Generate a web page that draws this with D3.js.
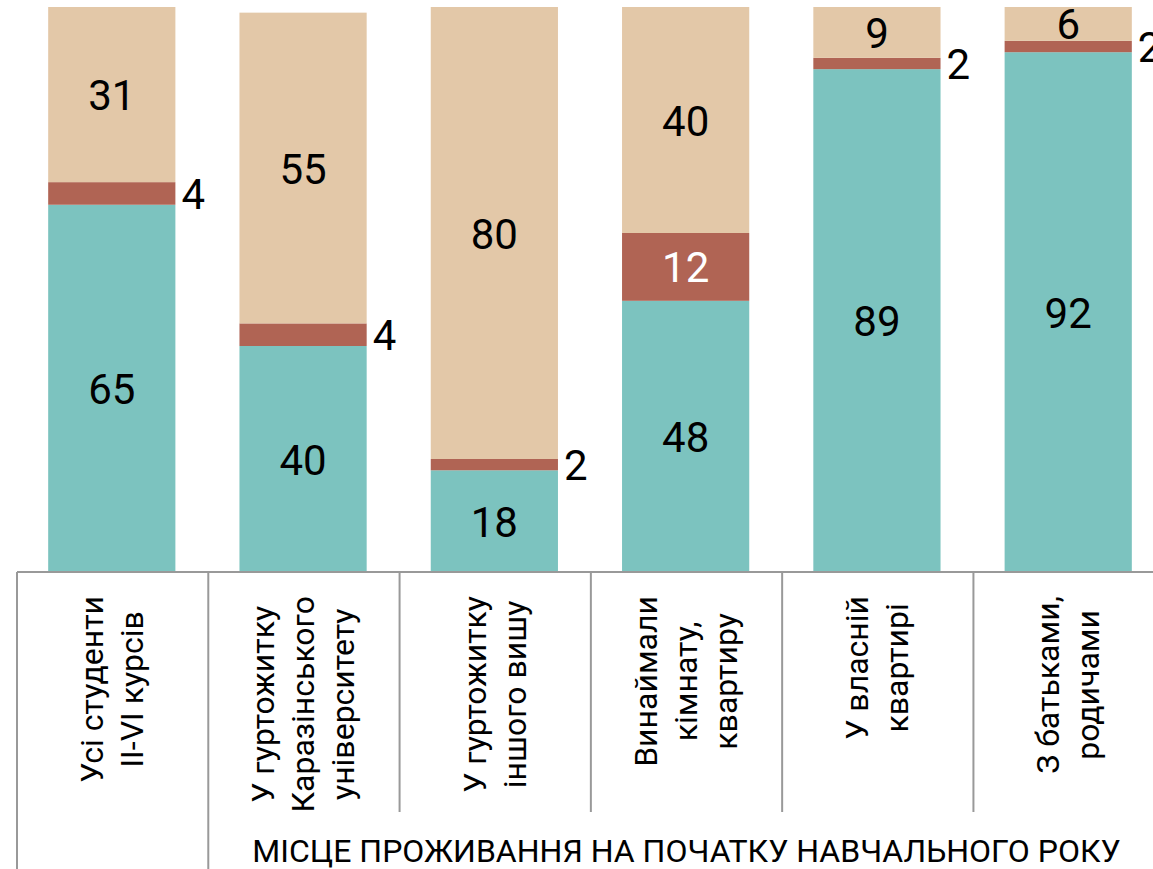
<!DOCTYPE html>
<html>
<head>
<meta charset="utf-8">
<script src="https://cdn.jsdelivr.net/npm/d3@7"></script>
<style>
  body { margin: 0; background: #fff; }
  svg { display: block; font-family: Roboto, "Noto Sans", sans-serif; }
</style>
</head>
<body>
<script>
// categories (each entry = lines of the rotated label)
var categories = [
  ["Усі студенти", "II-VI курсів"],
  ["У гуртожитку", "Каразінського", "університету"],
  ["У гуртожитку", "іншого вишу"],
  ["Винаймали", "кімнату,", "квартиру"],
  ["У власній", "квартирі"],
  ["З батьками,", "родичами"]
];
// series values, percent
var tealValues = [65, 40, 18, 48, 89, 92];
var redValues = [4, 4, 2, 12, 2, 2];
var beigeValues = [31, 55, 80, 40, 9, 6];
var groupTitle = "МІСЦЕ ПРОЖИВАННЯ НА ПОЧАТКУ НАВЧАЛЬНОГО РОКУ";

(function(){
  var width = 1153, height = 869;
  var keys = ["teal", "red", "beige"];
  var colors = {teal: "#7cc3bf", red: "#b06454", beige: "#e3c8a8"};

  // build rows for the stack
  var rows = categories.map(function(c, i){
    return {idx: i, teal: tealValues[i], red: redValues[i], beige: beigeValues[i]};
  });

  var svg = d3.select("body").append("svg")
    .attr("width", width)
    .attr("height", height);

  var x = d3.scaleBand()
    .domain(d3.range(categories.length))
    .range([17, 1163])
    .paddingInner(0.335)
    .paddingOuter(0.163);

  var y = d3.scaleLinear()
    .domain([0, 100])
    .range([572, 7]);

  var series = d3.stack().keys(keys)(rows);

  // bars
  var layers = svg.selectAll(".layer")
    .data(series)
    .enter()
    .append("g")
    .attr("class", "layer")
    .attr("fill", function(d){ return colors[d.key]; });

  layers.selectAll("rect")
    .data(function(d){ return d; })
    .enter()
    .append("rect")
    .attr("x", function(d){ return x(d.data.idx); })
    .attr("width", x.bandwidth())
    .attr("y", function(d){ return y(d[1]); })
    .attr("height", function(d){ return y(d[0]) - y(d[1]); });

  // value labels
  series.forEach(function(s){
    s.forEach(function(d){
      var v = d[1] - d[0];
      var outside = v < 5;
      var cy = (y(d[0]) + y(d[1])) / 2;
      svg.append("text")
        .attr("x", outside ? x(d.data.idx) + x.bandwidth() + 6 : x(d.data.idx) + x.bandwidth() / 2)
        .attr("y", cy)
        .attr("dy", "0.37em")
        .attr("text-anchor", outside ? "start" : "middle")
        .attr("font-size", 42)
        .attr("fill", (s.key == "red" && !outside) ? "#fff" : "#000")
        .text(v);
    });
  });

  // axis line
  var axisY = y(0);
  svg.append("line")
    .attr("x1", x.range()[0]).attr("x2", width)
    .attr("y1", axisY).attr("y2", axisY)
    .attr("stroke", "#999").attr("stroke-width", 2);

  // category boundary ticks
  var step = x.step();
  var x0 = x(0) - x.step() * x.paddingOuter();
  d3.range(categories.length + 1).forEach(function(i){
    var bx = x0 + i * step;
    svg.append("line")
      .attr("x1", bx).attr("x2", bx)
      .attr("y1", axisY).attr("y2", (i <= 1) ? height : 812)
      .attr("stroke", "#999").attr("stroke-width", 2);
  });

  // rotated category labels
  var lineH = 40;
  categories.forEach(function(lines, i){
    var cx = x(i) + x.bandwidth() / 2;
    var g = svg.append("g")
      .attr("transform", "translate(" + cx + ",596) rotate(-90)");
    var texts = lines.map(function(t, j){
      return g.append("text")
        .attr("y", (j - (lines.length - 1) / 2) * lineH)
        .attr("dy", "0.35em")
        .attr("text-anchor", "middle")
        .attr("font-size", 32)
        .attr("fill", "#000")
        .text(t);
    });
    var maxLen = d3.max(texts, function(t){ return t.node().getComputedTextLength(); });
    texts.forEach(function(t){ t.attr("x", -maxLen / 2); });
  });

  // group title spanning categories 2..6
  var gx0 = x0 + step, gx1 = x0 + categories.length * step;
  svg.append("text")
    .attr("x", (gx0 + gx1) / 2)
    .attr("y", 862)
    .attr("text-anchor", "middle")
    .attr("font-size", 32)
    .attr("fill", "#000")
    .text(groupTitle);
})();
</script>
</body>
</html>
